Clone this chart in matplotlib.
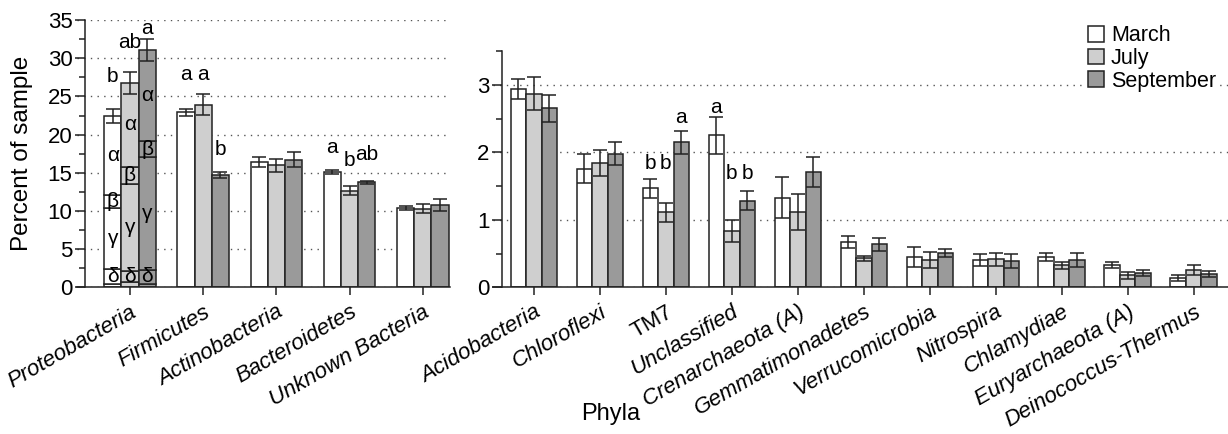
import numpy as np
import matplotlib
matplotlib.use("Agg")
import matplotlib.pyplot as plt
from matplotlib.patches import Patch
from matplotlib.ticker import MultipleLocator

plt.rcParams['font.family'] = ['Liberation Sans', 'DejaVu Sans']

# Major phyla (left panel), percent of sample, mean and error
left_phyla = ['Proteobacteria', 'Firmicutes', 'Actinobacteria', 'Bacteroidetes', 'Unknown Bacteria']
left_march = [22.4, 22.9, 16.4, 15.1, 10.4]
left_march_err = [0.9, 0.5, 0.65, 0.25, 0.2]
left_july = [26.8, 23.9, 16.0, 12.65, 10.3]
left_july_err = [1.45, 1.35, 0.85, 0.6, 0.6]
left_sept = [31.1, 14.7, 16.7, 13.75, 10.8]
left_sept_err = [1.45, 0.4, 1.0, 0.2, 0.8]

# Proteobacteria split into classes (March, July, September), bottom to top
proteo_other = [0.4, 0.7, 0.5]
proteo_delta = [2.0, 1.4, 1.85]
proteo_gamma = [8.0, 11.45, 14.75]
proteo_beta = [1.7, 2.25, 2.0]
proteo_classes = ['', 'δ', 'γ', 'β', 'α']

# Minor phyla (right panel)
right_phyla = ['Acidobacteria', 'Chloroflexi', 'TM7', 'Unclassified', 'Crenarchaeota (A)',
               'Gemmatimonadetes', 'Verrucomicrobia', 'Nitrospira', 'Chlamydiae',
               'Euryarchaeota (A)', 'Deinococcus-Thermus']
right_march = [2.94, 1.76, 1.47, 2.25, 1.33, 0.675, 0.455, 0.41, 0.455, 0.335, 0.14]
right_march_err = [0.15, 0.22, 0.14, 0.27, 0.3, 0.09, 0.145, 0.085, 0.06, 0.045, 0.04]
right_july = [2.87, 1.84, 1.11, 0.835, 1.12, 0.43, 0.41, 0.42, 0.33, 0.18, 0.26]
right_july_err = [0.24, 0.19, 0.14, 0.16, 0.27, 0.04, 0.12, 0.095, 0.05, 0.055, 0.075]
right_sept = [2.65, 1.98, 2.15, 1.285, 1.71, 0.64, 0.51, 0.39, 0.405, 0.215, 0.2]
right_sept_err = [0.2, 0.17, 0.17, 0.145, 0.22, 0.095, 0.06, 0.105, 0.1, 0.05, 0.05]

months = ['March', 'July', 'September']
colors = ['#ffffff', '#cfcfcf', '#9a9a9a']

# significance letters: (phylum index, month index, letter, height)
left_letters = [(0, 0, 'b', 27.6), (0, 1, 'ab', 32.1), (0, 2, 'a', 33.9),
                (1, 0, 'a', 27.9), (1, 1, 'a', 27.9), (1, 2, 'b', 18.1),
                (3, 0, 'a', 18.3), (3, 1, 'b', 16.6), (3, 2, 'ab', 17.4)]
right_letters = [(2, 0, 'b', 1.84), (2, 1, 'b', 1.84), (2, 2, 'a', 2.52),
                 (3, 0, 'a', 2.67), (3, 1, 'b', 1.69), (3, 2, 'b', 1.69)]

EDGE = '#222222'
width = 0.235
offsets = [-width, 0, width]


def draw_panel(ax, phyla, means, errs, letters, skip_first=False):
    x = np.arange(len(phyla))
    for m in range(3):
        vals = np.array(means[m], dtype=float)
        if skip_first:
            vals_bar = vals.copy()
            vals_bar[0] = np.nan
        else:
            vals_bar = vals
        ax.bar(x + offsets[m], vals_bar, width, color=colors[m], edgecolor=EDGE,
               linewidth=1.1, zorder=2, label=months[m])
        ax.errorbar(x + offsets[m], vals, yerr=errs[m], fmt='none', ecolor=EDGE,
                    elinewidth=1.1, capsize=5, capthick=1.1, zorder=3)
    for i, m, txt, yy in letters:
        ax.text(x[i] + offsets[m], yy, txt, ha='center', va='center', fontsize=15)
    ax.set_xticks(x)
    ax.set_xticklabels(phyla, rotation=30, ha='right', rotation_mode='anchor', fontsize=16)
    for lab in ax.get_xticklabels():
        if lab.get_text() != 'TM7':
            lab.set_fontstyle('italic')
    for s in ['top', 'right']:
        ax.spines[s].set_visible(False)
    for s in ['left', 'bottom']:
        ax.spines[s].set_linewidth(1.1)
        ax.spines[s].set_color(EDGE)
    ax.tick_params(axis='x', length=6, width=1.1, color=EDGE, pad=4)
    ax.tick_params(axis='y', which='major', length=7, width=1.1, color=EDGE, labelsize=16, pad=2)
    ax.tick_params(axis='y', which='minor', length=4, width=1.1, color=EDGE)
    ax.yaxis.grid(True, which='major', linestyle=(0, (1, 3.8)), color='#555555',
                  linewidth=1, zorder=0)
    ax.set_axisbelow(True)


fig = plt.figure(figsize=(12.28, 4.34), dpi=100)
ax1 = fig.add_axes([0.0627, 0.3376, 0.3037, 0.6164])
ax2 = fig.add_axes([0.4015, 0.3376, 0.5985, 0.5449])

# left panel
draw_panel(ax1, left_phyla,
           [left_march, left_july, left_sept],
           [left_march_err, left_july_err, left_sept_err],
           left_letters, skip_first=True)

# stacked Proteobacteria bars
totals = [left_march[0], left_july[0], left_sept[0]]
for m in range(3):
    segs = [proteo_other[m], proteo_delta[m], proteo_gamma[m], proteo_beta[m]]
    segs.append(totals[m] - sum(segs))
    bottom = 0
    for k, h in enumerate(segs):
        ax1.bar(offsets[m], h, width, bottom=bottom, color=colors[m], edgecolor=EDGE,
                linewidth=1.1, zorder=2)
        if proteo_classes[k]:
            ax1.text(offsets[m], bottom + h / 2, proteo_classes[k], ha='center',
                     va='center', fontsize=15, zorder=4)
        bottom += h

ax1.set_xlim(-0.724, 4.37)
ax1.set_ylim(0, 35)
ax1.spines['left'].set_position(('data', -0.614))
ax1.yaxis.set_major_locator(MultipleLocator(5))
ax1.yaxis.set_minor_locator(MultipleLocator(2.5))
ax1.set_ylabel('Percent of sample', fontsize=17.5)
ax1.yaxis.set_label_coords(-0.118, 0.5)

# right panel
draw_panel(ax2, right_phyla,
           [right_march, right_july, right_sept],
           [right_march_err, right_july_err, right_sept_err],
           right_letters)
ax2.set_xlim(-0.62, 10.52)
ax2.set_ylim(0, 3.5)
ax2.spines['left'].set_position(('data', -0.485))
ax2.yaxis.set_major_locator(MultipleLocator(1))
ax2.yaxis.set_minor_locator(MultipleLocator(0.5))

handles = [Patch(facecolor=c, edgecolor=EDGE, linewidth=1.1) for c in colors]
leg = ax2.legend(handles, months, loc='upper left', bbox_to_anchor=(1085 / 1228, 1 - 22 / 434),
                 bbox_transform=fig.transFigure, fontsize=15.5, frameon=True, framealpha=1,
                 edgecolor='none', facecolor='white', borderpad=0.15, borderaxespad=0,
                 handlelength=0.75, handleheight=0.75, handletextpad=0.3, labelspacing=0.08)

fig.text(0.497, 0.045, 'Phyla', ha='center', va='center', fontsize=17)

fig.savefig('out.png', dpi=100)
